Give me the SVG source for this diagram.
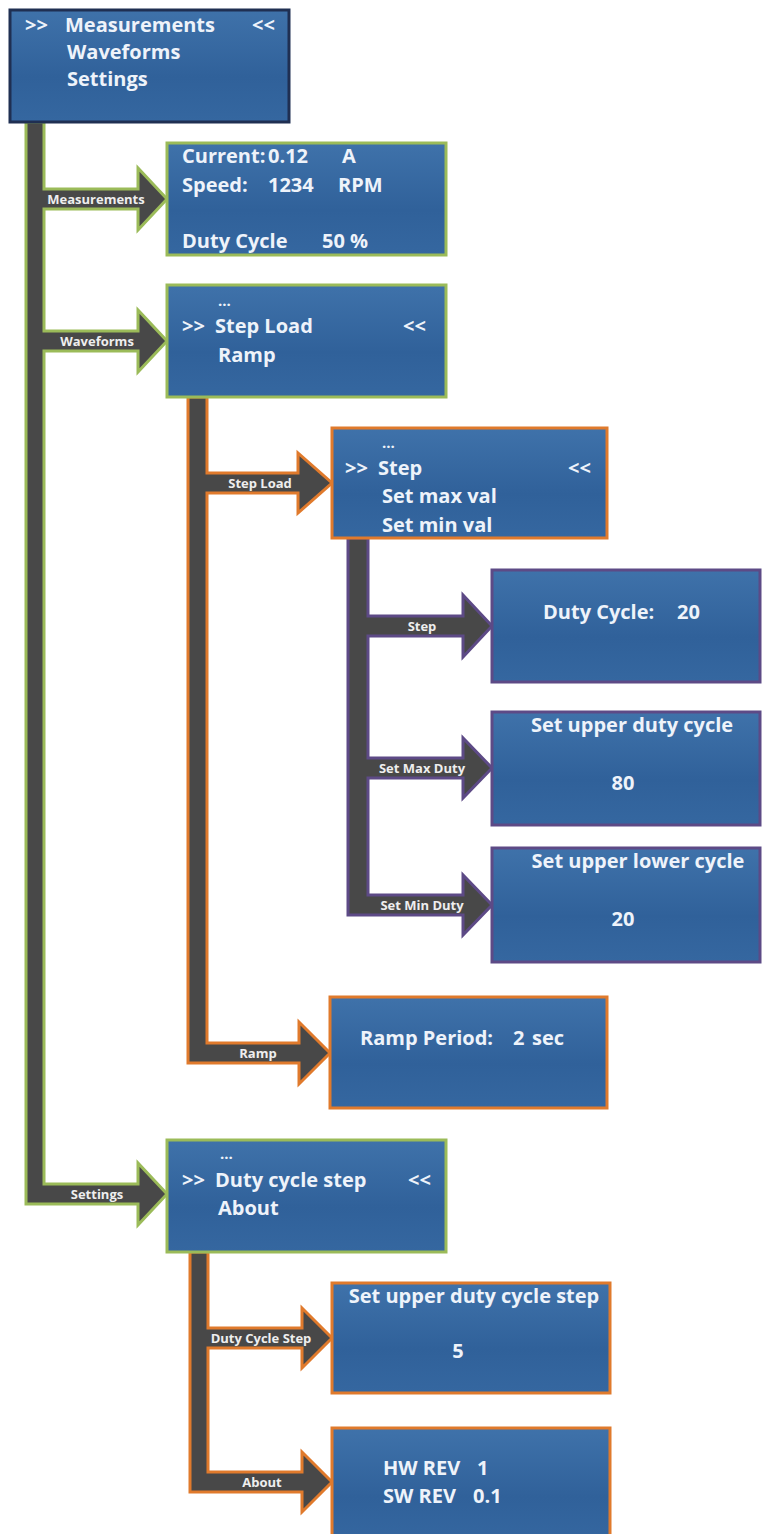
<svg xmlns="http://www.w3.org/2000/svg" width="762" height="1534" viewBox="0 0 762 1534">
<defs>
<linearGradient id="boxg" x1="0" y1="0" x2="0" y2="1">
<stop offset="0" stop-color="#3f72aa"/>
<stop offset="0.6" stop-color="#30619a"/>
<stop offset="1" stop-color="#3567a0"/>
</linearGradient>
<style>
.box{fill:url(#boxg);stroke-width:3}
.navy{stroke:#1f2f52}
.green{stroke:#9bbb59}
.orange{stroke:#e07a2c}
.purple{stroke:#5d4a86}
.bar{fill:#484848;stroke-width:3;stroke-linejoin:miter}
.t{font-family:"Open Sans","Liberation Sans",sans-serif;font-weight:700;font-size:20px;fill:#eef3fa}
.dots{font-size:15px}
.c{text-anchor:middle}
.lbl{font-family:"Open Sans","Liberation Sans",sans-serif;font-weight:700;font-size:13px;fill:#eeeeee;text-anchor:middle}
</style>
</defs>
<rect width="762" height="1534" fill="#ffffff"/>

<g id="connectors">
<path class="bar green" d="M26,122 H44 V189 H138 V168 L167,199 L138,230 V209 H44 V331 H138 V310 L167,341 L138,372 V351 H44 V1184 H138 V1163 L167,1194 L138,1225 V1204 H26 Z"/>
<path class="bar orange" d="M188,397 H207 V473 H298 V453 L332,483 L298,513 V493 H207 V1043 H299 V1022 L330,1053 L299,1084 V1063 H188 Z"/>
<path class="bar purple" d="M348,538 H368 V616 H463 V595 L492,626 L463,657 V636 H368 V758 H463 V738 L492,768 L463,798 V778 H368 V895 H463 V875 L492,905 L463,935 V915 H348 Z"/>
<path class="bar orange" d="M190,1252 H208 V1328 H302 V1308 L332,1338 L302,1368 V1348 H208 V1472 H302 V1452 L332,1482 L302,1512 V1492 H190 Z"/>
<text class="lbl" x="96" y="203.5">Measurements</text>
<text class="lbl" x="97" y="345.5">Waveforms</text>
<text class="lbl" x="97" y="1198.5">Settings</text>
<text class="lbl" x="260" y="487.5">Step Load</text>
<text class="lbl" x="258" y="1057.5">Ramp</text>
<text class="lbl" x="422" y="630.5">Step</text>
<text class="lbl" x="422" y="772.5">Set Max Duty</text>
<text class="lbl" x="422" y="909.5">Set Min Duty</text>
<text class="lbl" x="261" y="1342.5">Duty Cycle Step</text>
<text class="lbl" x="262" y="1486.5">About</text>
</g>

<g id="main-menu">
<rect class="box navy" x="10" y="10" width="279" height="112"/>
<text class="t" x="25" y="32">&gt;&gt;</text>
<text class="t" x="65" y="32">Measurements</text>
<text class="t" x="252" y="32">&lt;&lt;</text>
<text class="t" x="67" y="59">Waveforms</text>
<text class="t" x="67" y="86">Settings</text>
</g>

<g id="measurements">
<rect class="box green" x="167" y="143" width="279" height="112"/>
<text class="t" y="163"><tspan x="182">Current:</tspan><tspan x="268">0.12</tspan><tspan x="342">A</tspan></text>
<text class="t" y="192"><tspan x="182">Speed:</tspan><tspan x="268">1234</tspan><tspan x="338">RPM</tspan></text>
<text class="t" y="248"><tspan x="182">Duty Cycle</tspan><tspan x="322">50 %</tspan></text>
</g>

<g id="waveforms">
<rect class="box green" x="167" y="285" width="279" height="112"/>
<text class="t dots" x="218" y="306">...</text>
<text class="t" x="182" y="333">&gt;&gt;</text>
<text class="t" x="215" y="333">Step Load</text>
<text class="t" x="403" y="333">&lt;&lt;</text>
<text class="t" x="218" y="362">Ramp</text>
</g>

<g id="step-load">
<rect class="box orange" x="332" y="428" width="275" height="110"/>
<text class="t dots" x="382" y="448">...</text>
<text class="t" x="345" y="475">&gt;&gt;</text>
<text class="t" x="378" y="475">Step</text>
<text class="t" x="568" y="475">&lt;&lt;</text>
<text class="t" x="382" y="503">Set max val</text>
<text class="t" x="382" y="532">Set min val</text>
</g>

<g id="step">
<rect class="box purple" x="492" y="570" width="268" height="112"/>
<text class="t" y="619"><tspan x="543">Duty Cycle:</tspan><tspan x="677">20</tspan></text>
</g>

<g id="set-max-duty">
<rect class="box purple" x="492" y="712" width="268" height="113"/>
<text class="t c" x="632" y="732">Set upper duty cycle</text>
<text class="t c" x="623" y="790">80</text>
</g>

<g id="set-min-duty">
<rect class="box purple" x="492" y="848" width="268" height="114"/>
<text class="t c" x="638" y="868">Set upper lower cycle</text>
<text class="t c" x="623" y="926">20</text>
</g>

<g id="ramp">
<rect class="box orange" x="330" y="997" width="277" height="111"/>
<text class="t" y="1045"><tspan x="360">Ramp Period:</tspan><tspan x="513">2</tspan><tspan x="532">sec</tspan></text>
</g>

<g id="settings">
<rect class="box green" x="167" y="1140" width="279" height="112"/>
<text class="t dots" x="220" y="1159">...</text>
<text class="t" x="182" y="1187">&gt;&gt;</text>
<text class="t" x="215" y="1187">Duty cycle step</text>
<text class="t" x="408" y="1187">&lt;&lt;</text>
<text class="t" x="218" y="1215">About</text>
</g>

<g id="duty-cycle-step">
<rect class="box orange" x="332" y="1283" width="278" height="110"/>
<text class="t c" x="474" y="1303">Set upper duty cycle step</text>
<text class="t c" x="458" y="1358">5</text>
</g>

<g id="about">
<rect class="box orange" x="332" y="1428" width="278" height="115"/>
<text class="t" y="1475"><tspan x="383">HW REV</tspan><tspan x="477">1</tspan></text>
<text class="t" y="1503"><tspan x="383">SW REV</tspan><tspan x="473">0.1</tspan></text>
</g>
</svg>
